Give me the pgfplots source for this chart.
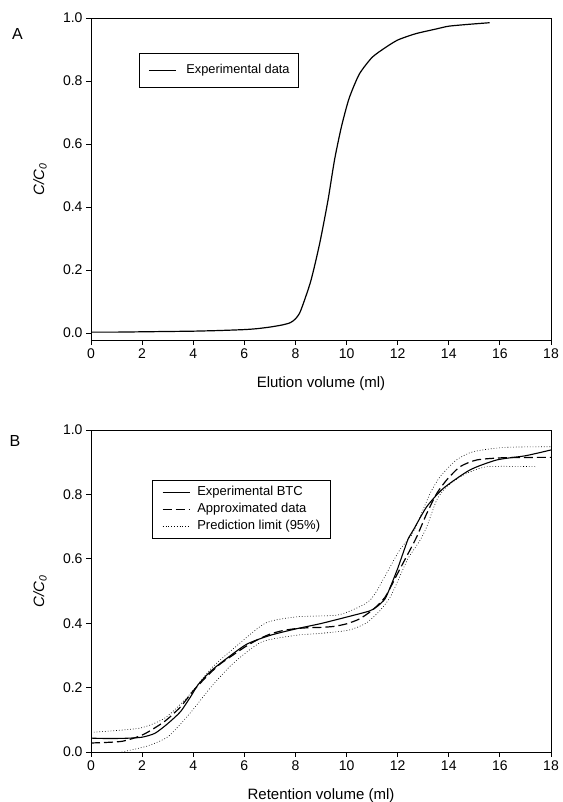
\documentclass[border=0pt]{standalone}
\usepackage{pgfplots}
\pgfplotsset{compat=1.18}
\usepackage{fontspec}
\setmainfont{Liberation Sans}

\begin{document}
\begin{tikzpicture}
\useasboundingbox (0,0) rectangle (562pt,802pt);
\pgfplotsset{
  common/.style={
    scale only axis, width=460pt, height=322pt,
    xmin=0, xmax=18, xtick={0,2,...,18},
    ytick={0,0.2,0.4,0.6,0.8,1.0},
    yticklabel style={/pgf/number format/.cd, fixed, fixed zerofill, precision=1},
    /pgf/number format/assume math mode=true,
    tick align=outside, tick pos=left,
    major tick length=5pt,
    tick style={black, line width=0.8pt},
    axis line style={line width=0.8pt},
    ticklabel style={font=\fontsize{14}{15}\selectfont},
    every axis x label/.style={at={(axis description cs:0.5,-0.147)}, anchor=base, font=\fontsize{15}{16}\selectfont},
    every axis y label/.style={at={(axis description cs:-0.111,0.5)}, rotate=90, anchor=center, font=\fontsize{15}{16}\selectfont},
    ylabel={\textit{C/C}\textsubscript{\textit{0}}},
    legend cell align=left,
    legend image code/.code={\draw[##1] (0pt,0pt) -- (27pt,0pt);},
    legend style={draw=black, line width=0.8pt,
      nodes={inner sep=0pt, text height=10pt, text depth=3.5pt},
      row sep=3.2pt},
  }
}
% Panel A
\begin{axis}[common, at={(91pt,462pt)}, anchor=south west,
  ymin=-0.022, ymax=1.0,
  xlabel={Elution volume (ml)},
  legend style={at={(axis description cs:0.104,0.891)}, anchor=north west,
    font=\fontsize{12.8}{14}\selectfont, inner xsep=9pt, inner ysep=10.2pt,
    /tikz/every odd column/.append style={column sep=10pt}}]
\addplot[black, line width=1.2pt, smooth, tension=0.4] coordinates {
(0,0.003) (1,0.003) (2,0.004) (3,0.005) (4,0.006) (5,0.008) (6,0.011) (6.5,0.014)
(7,0.019) (7.5,0.026) (7.8,0.033) (8.0,0.045) (8.2,0.07) (8.6,0.165) (8.95,0.285)
(9.27,0.42) (9.53,0.55) (9.8,0.655) (10.1,0.745) (10.5,0.822) (11.0,0.875)
(11.5,0.905) (12.0,0.93) (12.7,0.95) (13.5,0.965) (14.0,0.974) (14.8,0.98) (15.6,0.985)};
\addlegendentry{Experimental data}
\end{axis}
% Panel B
\begin{axis}[common, at={(91pt,50pt)}, anchor=south west,
  ymin=0, ymax=1.0,
  xlabel={Retention volume (ml)},
  legend style={at={(axis description cs:0.132,0.845)}, anchor=north west,
    font=\fontsize{13}{15}\selectfont, inner xsep=10pt, inner ysep=5.5pt,
    /tikz/every odd column/.append style={column sep=7pt}}]
\addplot[black, line width=1.1pt, smooth, tension=0.4] coordinates {
(0,0.043) (0.5,0.042) (1,0.042) (1.5,0.043) (2,0.046) (2.5,0.058) (3,0.088) (3.5,0.125)
(3.9,0.172) (4.2,0.21) (4.7,0.252) (5.3,0.29) (6.1,0.335) (7,0.362) (8,0.382) (9,0.399)
(10,0.419) (10.9,0.438) (11.2,0.452) (11.5,0.475) (11.7,0.51) (12.0,0.57) (12.42,0.664)
(12.61,0.689) (13.14,0.762) (13.79,0.819) (14.83,0.876) (15.88,0.907) (17,0.92) (18,0.938)};
\addlegendentry{Experimental BTC}
\addplot[black, line width=1.2pt, dash pattern=on 9pt off 4pt, smooth, tension=0.4] coordinates {
(0,0.028) (1.2,0.033) (2.04,0.054) (2.88,0.095) (3.5,0.14) (4,0.19) (4.5,0.232) (5,0.27)
(5.5,0.298) (6,0.325) (6.5,0.348) (7,0.366) (7.5,0.377) (8,0.383) (8.5,0.386) (9,0.387)
(9.5,0.39) (10,0.398) (10.5,0.413) (11,0.44) (11.5,0.48) (12,0.555) (12.5,0.63) (12.75,0.669)
(13.14,0.741) (13.53,0.803) (13.92,0.845) (14.44,0.886) (15.1,0.907) (16.2,0.914) (18,0.915)};
\addlegendentry{Approximated data}
\addplot[black, line width=0.6pt, dash pattern=on 0.8pt off 2pt, smooth, tension=0.4] coordinates {
(0,0.061) (1.9,0.074) (2.88,0.105) (3.73,0.167) (4.71,0.26) (5.56,0.32) (6.82,0.40)
(8.09,0.42) (9.63,0.425) (10.48,0.45) (10.9,0.47) (11.18,0.50) (11.6,0.56) (12.1,0.63)
(12.55,0.674) (12.88,0.731) (13.27,0.803) (13.66,0.855) (14.3,0.907) (14.97,0.933)
(16.2,0.946) (18,0.948)};
\addlegendentry{Prediction limit (95\%)}
\addplot[black, line width=0.6pt, dash pattern=on 0.8pt off 2pt, smooth, tension=0.4, forget plot] coordinates {
(1.2,0.0) (2.18,0.018) (3.02,0.048) (3.87,0.12) (4.71,0.203) (5.56,0.275) (6.68,0.342)
(8.09,0.363) (8.93,0.368) (10.06,0.378) (10.76,0.40) (11.32,0.44) (11.7,0.48) (12.0,0.53)
(12.4,0.60) (12.88,0.658) (13.14,0.70) (13.53,0.783) (13.92,0.824) (14.57,0.86)
(15.49,0.886) (17.38,0.886)};
\end{axis}
\node[font=\fontsize{16}{17}\selectfont] at (17.5pt,768pt) {A};
\node[font=\fontsize{16}{17}\selectfont] at (15pt,361pt) {B};
\end{tikzpicture}
\end{document}
